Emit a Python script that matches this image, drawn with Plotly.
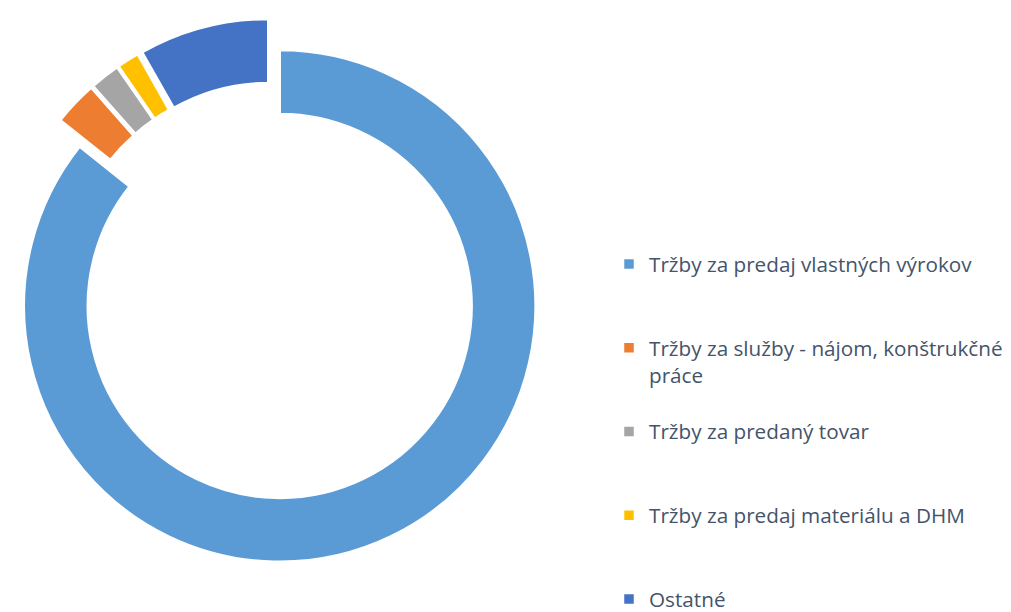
import plotly.graph_objects as go

categories = [
    "Tržby za predaj vlastných výrokov",
    "Tržby za služby - nájom, konštrukčné<br>práce",
    "Tržby za predaný tovar",
    "Tržby za predaj materiálu a DHM",
    "Ostatné",
]
values = [85.7, 2.8, 1.9, 1.4, 8.2]
colors = ["#5B9BD5", "#ED7D31", "#A5A5A5", "#FFC000", "#4472C4"]

# pad legend labels so each entry occupies three lines (Excel-like spacing)
legend_labels = []
for c in categories:
    n = c.count("<br>") + 1
    legend_labels.append(c + "<br> " * (3 - n))

W, H = 1011, 612
fig = go.Figure(
    go.Pie(
        labels=legend_labels,
        values=values,
        sort=False,
        direction="clockwise",
        rotation=0,
        hole=0.75,
        pull=[0.065] * len(values),
        marker=dict(colors=colors, line=dict(color="white", width=2.5)),
        textinfo="none",
        hoverinfo="label+percent",
        domain=dict(x=[0, 545 / W], y=[(H - 563.5) / H, (H - 18.5) / H]),
    )
)
fig.update_layout(
    width=W,
    height=H,
    margin=dict(l=0, r=0, t=0, b=0, autoexpand=False),
    paper_bgcolor="white",
    plot_bgcolor="white",
    showlegend=True,
    legend=dict(
        x=609 / W,
        xanchor="left",
        y=(H - 244) / H,
        yanchor="top",
        valign="top",
        font=dict(family="Open Sans", size=20.7, color="#44546A"),
        bgcolor="rgba(0,0,0,0)",
        traceorder="normal",
    ),
)
fig.write_html("out.html")
